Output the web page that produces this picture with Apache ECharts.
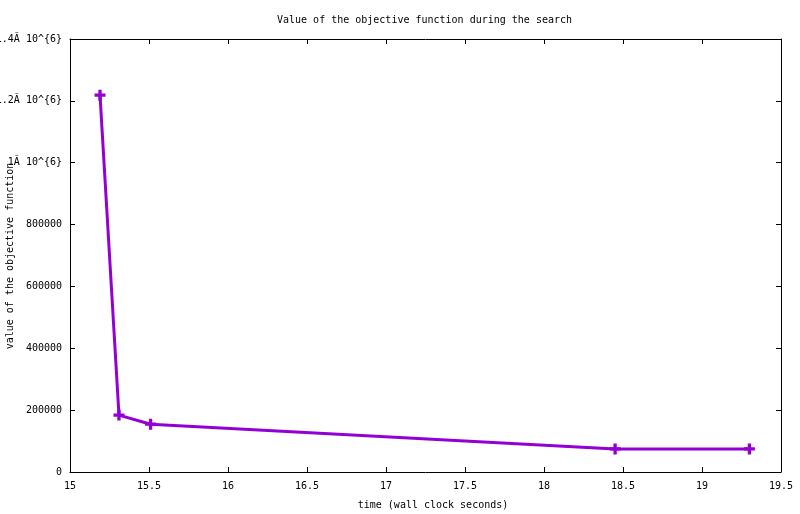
<!DOCTYPE html>
<html>
<head>
<meta charset="utf-8">
<script src="https://cdn.jsdelivr.net/npm/echarts@6/dist/echarts.min.js"></script>
<style>html,body{margin:0;padding:0;background:#fff}#c{width:800px;height:514px}</style>
</head>
<body>
<div id="c"></div>
<script>
var times = [15.19, 15.31, 15.51, 18.45, 19.30];
var values = [1218500, 184000, 154500, 74500, 74500];
var xTicks = [15, 15.5, 16, 16.5, 17, 17.5, 18, 18.5, 19, 19.5];
var yTickValues = [0, 200000, 400000, 600000, 800000, 1000000, 1200000, 1400000];
var yTickLabels = ['0', '200000', '400000', '600000', '800000', '1Ã 10^{6}', '1.2Ã 10^{6}', '1.4Ã 10^{6}'];
var titleText = 'Value of the objective function during the search';
var xLabelText = 'time (wall clock seconds)';
var yLabelText = 'value of the objective function';

var FONT = 'DejaVu Sans Mono';
var chart = echarts.init(document.getElementById('c'));
var plusPath = 'path://M3.5,0 H6.5 V3.5 H10 V6.5 H6.5 V10 H3.5 V6.5 H0 V3.5 H3.5 Z';
function axisBase(pos, isX, showLabel) {
  var a = {
    type: 'value',
    position: pos,
    min: isX ? xTicks[0] : yTickValues[0],
    max: isX ? xTicks[xTicks.length - 1] : yTickValues[yTickValues.length - 1],
    interval: isX ? 0.5 : 200000,
    axisLine: {show: true, onZero: false, lineStyle: {color: '#000', width: 1}},
    axisTick: {show: true, inside: true, length: 5, lineStyle: {color: '#000', width: 1}},
    splitLine: {show: false},
    axisLabel: {show: showLabel, color: '#000', fontFamily: FONT, fontSize: 10, margin: isX ? 9 : 8}
  };
  if (showLabel && !isX) {
    a.axisLabel.formatter = function (v) {
      var i = yTickValues.indexOf(v);
      return i >= 0 ? yTickLabels[i] : '';
    };
  }
  if (showLabel && isX) {
    a.axisLabel.formatter = function (v) { return String(Math.round(v * 10) / 10); };
  }
  return a;
}
var option = {
  animation: false,
  backgroundColor: '#fff',
  grid: {left: 70, top: 39, width: 711, height: 433, containLabel: false, outerBoundsMode: 'none'},
  xAxis: [axisBase('bottom', true, true), axisBase('top', true, false)],
  yAxis: [axisBase('left', false, true), axisBase('right', false, false)],
  series: [{
    type: 'line',
    xAxisIndex: 0,
    yAxisIndex: 0,
    data: times.map(function (t, i) { return [t, values[i]]; }),
    lineStyle: {color: '#9400D3', width: 3},
    itemStyle: {color: '#9400D3'},
    symbol: plusPath,
    symbolSize: 11,
    showSymbol: true
  }],
  graphic: [
    {type: 'text', x: 424.5, y: 20, style: {text: titleText, font: '10px "' + FONT + '"', fill: '#000', textAlign: 'center', textVerticalAlign: 'middle'}},
    {type: 'text', x: 433, y: 505, style: {text: xLabelText, font: '10px "' + FONT + '"', fill: '#000', textAlign: 'center', textVerticalAlign: 'middle'}},
    {type: 'text', x: 10, y: 256, rotation: Math.PI / 2, style: {text: yLabelText, font: '10px "' + FONT + '"', fill: '#000', textAlign: 'center', textVerticalAlign: 'middle'}}
  ]
};
chart.setOption(option);
</script>
</body>
</html>
